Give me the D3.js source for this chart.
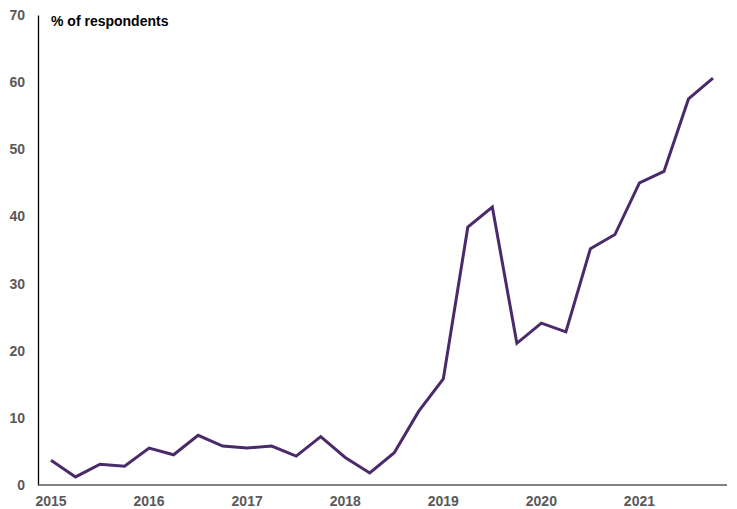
<!DOCTYPE html>
<html>
<head>
<meta charset="utf-8">
<script src="https://cdn.jsdelivr.net/npm/d3@7.9.0/dist/d3.min.js"></script>
<style>
  body { margin: 0; background: #fff; }
  svg { display: block; font-family: "Liberation Sans", Arial, sans-serif; }
</style>
</head>
<body>
<svg id="chart" width="737" height="509"></svg>
<script>
const quarters = [
  "2015Q1", "2015Q2", "2015Q3", "2015Q4",
  "2016Q1", "2016Q2", "2016Q3", "2016Q4",
  "2017Q1", "2017Q2", "2017Q3", "2017Q4",
  "2018Q1", "2018Q2", "2018Q3", "2018Q4",
  "2019Q1", "2019Q2", "2019Q3", "2019Q4",
  "2020Q1", "2020Q2", "2020Q3", "2020Q4",
  "2021Q1", "2021Q2", "2021Q3", "2021Q4"
];
const respondents = [
  3.7, 1.2, 3.1, 2.8,
  5.5, 4.5, 7.4, 5.8,
  5.5, 5.8, 4.3, 7.2,
  4.1, 1.8, 4.8, 11.0,
  15.8, 38.4, 41.4, 21.1,
  24.1, 22.8, 35.2, 37.3,
  45.0, 46.7, 57.5, 60.6
];
const yearLabels = ["2015", "2016", "2017", "2018", "2019", "2020", "2021"];
const yTicks = [0, 10, 20, 30, 40, 50, 60, 70];

const data = quarters.map((q, i) => ({ q: q, v: respondents[i] }));

const svg = d3.select("#chart");

const x = d3.scalePoint()
    .domain(quarters)
    .range([51, 713]);

const y = d3.scaleLinear()
    .domain([0, 70])
    .range([485, 15]);

// y axis
const yAxis = svg.append("g")
    .attr("transform", "translate(38,0)")
    .call(d3.axisLeft(y).tickValues(yTicks).tickSize(0).tickPadding(13));
yAxis.select(".domain").attr("stroke", "#000").attr("stroke-width", 1.3);
yAxis.selectAll("text")
    .style("font-size", "14px")
    .style("font-weight", "bold")
    .attr("fill", "#595959");

// x axis
svg.append("line")
    .attr("x1", 38).attr("x2", 727)
    .attr("y1", y(0)).attr("y2", y(0))
    .attr("stroke", "#595959")
    .attr("stroke-width", 1.3);

svg.append("g")
    .selectAll("text")
    .data(yearLabels)
    .enter()
    .append("text")
    .attr("x", d => x(d + "Q1"))
    .attr("y", 506)
    .attr("text-anchor", "middle")
    .style("font-size", "14px")
    .style("font-weight", "bold")
    .attr("fill", "#595959")
    .text(d => d);

// series
svg.append("path")
    .datum(data)
    .attr("fill", "none")
    .attr("stroke", "#4b2a6b")
    .attr("stroke-width", 3)
    .attr("stroke-linejoin", "miter")
    .attr("d", d3.line().x(d => x(d.q)).y(d => y(d.v)));

svg.append("text")
    .attr("x", 51)
    .attr("y", 26)
    .style("font-size", "14px")
    .style("font-weight", "bold")
    .attr("fill", "#000")
    .text("% of respondents");
</script>
</body>
</html>
